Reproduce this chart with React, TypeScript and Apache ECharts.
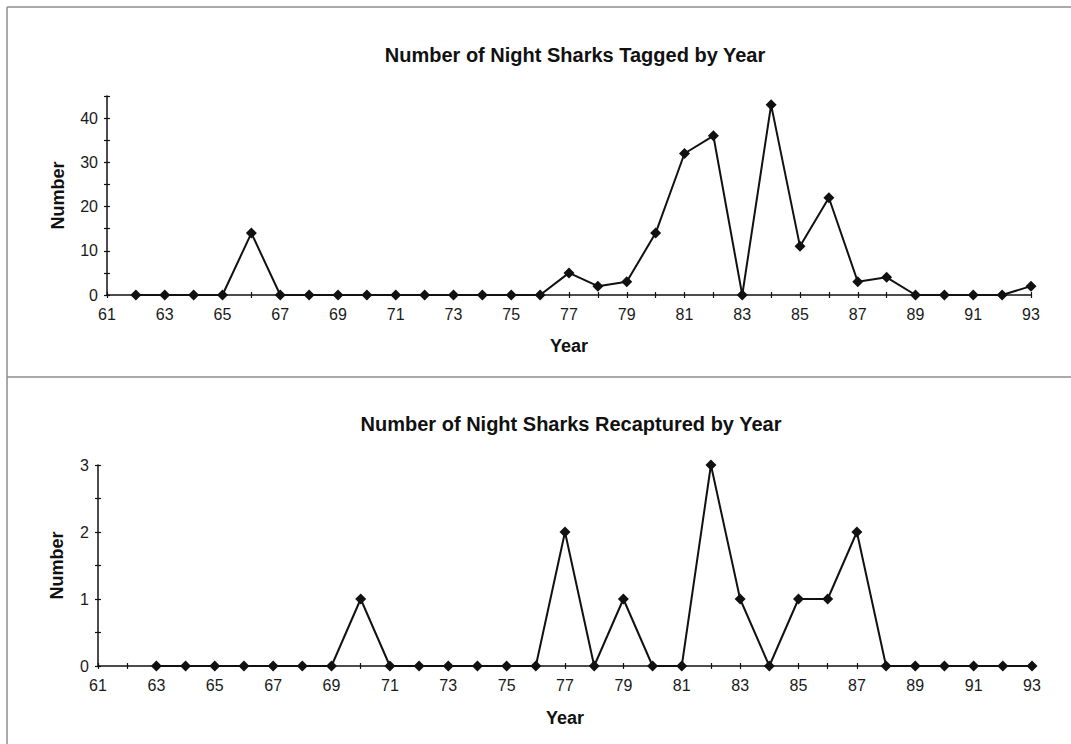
import React, { useEffect, useRef } from "react";
import * as echarts from "echarts";

const taggedYears = [62, 63, 64, 65, 66, 67, 68, 69, 70, 71, 72, 73, 74, 75, 76, 77, 78, 79, 80, 81, 82, 83, 84, 85, 86, 87, 88, 89, 90, 91, 92, 93];
const taggedValues = [0, 0, 0, 0, 14, 0, 0, 0, 0, 0, 0, 0, 0, 0, 0, 5, 2, 3, 14, 32, 36, 0, 43, 11, 22, 3, 4, 0, 0, 0, 0, 2];

const recapYears = [63, 64, 65, 66, 67, 68, 69, 70, 71, 72, 73, 74, 75, 76, 77, 78, 79, 80, 81, 82, 83, 84, 85, 86, 87, 88, 89, 90, 91, 92, 93];
const recapValues = [0, 0, 0, 0, 0, 0, 0, 1, 0, 0, 0, 0, 0, 0, 2, 0, 1, 0, 0, 3, 1, 0, 1, 1, 2, 0, 0, 0, 0, 0, 0];

const titles = ["Number of Night Sharks Tagged by Year", "Number of Night Sharks Recaptured by Year"];
const xName = "Year";
const yName = "Number";

const FONT = "'Liberation Sans', Arial, sans-serif";

export default function App() {
  const ref = useRef<HTMLDivElement>(null);
  useEffect(() => {
    if (!ref.current) return;
    const chart = echarts.init(ref.current, undefined, { renderer: "svg" });
    const axisLine = { show: true, onZero: false, lineStyle: { color: "#111", width: 1.5 } };
    const tickOut = { show: true, inside: false, length: 3, lineStyle: { color: "#111", width: 1.2 } };
    const tickIn = { show: true, inside: true, length: 3, lineStyle: { color: "#111", width: 1.2 } };
    const nameStyle = { color: "#111", fontSize: 18, fontWeight: "bold" as const, fontFamily: FONT };

    const xBase = (gridIndex: number) => ({
      type: "value" as const,
      gridIndex,
      position: "bottom" as const,
      min: 61,
      max: 93,
      interval: 1,
      splitLine: { show: false },
    });
    const mkX = (gridIndex: number, gap: number) => ({
      ...xBase(gridIndex),
      axisLine,
      axisTick: tickOut,
      axisLabel: {
        show: true,
        color: "#1a1a1a",
        fontSize: 16,
        fontFamily: FONT,
        margin: 11,
        showMinLabel: true,
        showMaxLabel: true,
        formatter: (v: number) => (v % 2 === 1 ? String(v) : ""),
      },
      name: xName,
      nameLocation: "middle" as const,
      nameGap: gap,
      nameTextStyle: nameStyle,
    });
    const mkXIn = (gridIndex: number) => ({
      ...xBase(gridIndex),
      axisLine: { show: false },
      axisTick: tickIn,
      axisLabel: { show: false },
    });
    const yBase = (gridIndex: number, max: number, interval: number) => ({
      type: "value" as const,
      gridIndex,
      position: "left" as const,
      min: 0,
      max,
      interval,
      splitLine: { show: false },
    });
    const mkY = (gridIndex: number, max: number, interval: number, step: number, gap: number) => ({
      ...yBase(gridIndex, max, interval),
      axisLine,
      axisTick: tickOut,
      axisLabel: {
        show: true,
        color: "#1a1a1a",
        fontSize: 16,
        fontFamily: FONT,
        margin: 9,
        formatter: (v: number) => (Math.abs(v / step - Math.round(v / step)) < 1e-9 ? String(v) : ""),
      },
      name: yName,
      nameLocation: "middle" as const,
      nameGap: gap,
      nameRotate: 90,
      nameTextStyle: nameStyle,
    });
    const mkYIn = (gridIndex: number, max: number, interval: number) => ({
      ...yBase(gridIndex, max, interval),
      axisLine: { show: false },
      axisTick: tickIn,
      axisLabel: { show: false },
    });

    const series = (data: number[], years: number[], idx: number) => ({
      type: "line" as const,
      xAxisIndex: idx,
      yAxisIndex: idx,
      data: years.map((y, i) => [y, data[i]]),
      symbol: "diamond",
      symbolSize: 11,
      lineStyle: { color: "#111", width: 2 },
      itemStyle: { color: "#111" },
      z: 5,
    });

    chart.setOption({
      animation: false,
      backgroundColor: "#fff",
      textStyle: { fontFamily: FONT, fontSize: 16 },
      title: [
        {
          text: titles[0],
          left: 570,
          textAlign: "center",
          top: 40,
          textStyle: { fontSize: 20, fontWeight: "bold", fontFamily: FONT, color: "#111" },
        },
        {
          text: titles[1],
          left: 566,
          textAlign: "center",
          top: 409,
          textStyle: { fontSize: 20, fontWeight: "bold", fontFamily: FONT, color: "#111" },
        },
      ],
      grid: [
        { left: 107, right: 40, top: 96, height: 199 },
        { left: 98, right: 39, top: 465, height: 201 },
      ],
      xAxis: [mkX(0, 42), mkX(1, 43), mkXIn(0), mkXIn(1)],
      yAxis: [
        mkY(0, 45, 5, 10, 40),
        mkY(1, 3, 0.5, 1, 32),
        mkYIn(0, 45, 5),
        mkYIn(1, 3, 0.5),
      ],
      series: [series(taggedValues, taggedYears, 0), series(recapValues, recapYears, 1)],
      graphic: [
        { type: "line", shape: { x1: 7, y1: 7, x2: 1071, y2: 7 }, style: { stroke: "#8e8e8e", lineWidth: 1.5 } },
        { type: "line", shape: { x1: 7, y1: 7, x2: 7, y2: 744 }, style: { stroke: "#8e8e8e", lineWidth: 1.5 } },
        { type: "line", shape: { x1: 7, y1: 377, x2: 1071, y2: 377 }, style: { stroke: "#8e8e8e", lineWidth: 1.5 } },
      ],
    });
    return () => chart.dispose();
  }, []);
  return <div ref={ref} style={{ position: "fixed", left: 0, top: 0, width: 1071, height: 744 }} />;
}
